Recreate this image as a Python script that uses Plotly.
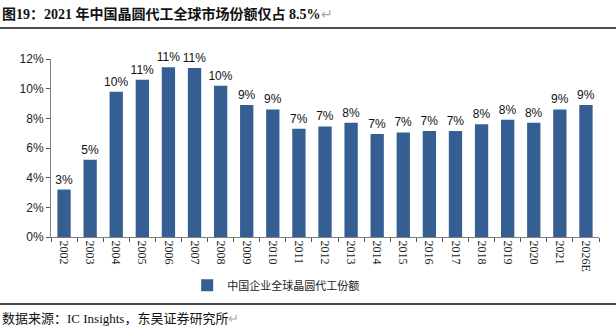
import plotly.graph_objects as go

years = ["2002", "2003", "2004", "2005", "2006", "2007", "2008", "2009", "2010",
         "2011", "2012", "2013", "2014", "2015", "2016", "2017", "2018", "2019",
         "2020", "2021", "2026E"]
share_pct = [3.2, 5.2, 9.8, 10.6, 11.45, 11.4, 10.2, 8.9, 8.6,
             7.3, 7.45, 7.7, 6.95, 7.05, 7.15, 7.15, 7.6, 7.9,
             7.7, 8.6, 8.9]
series_name = "中国企业全球晶圆代工份额"
y_ticks = [0, 2, 4, 6, 8, 10, 12]
y_tick_labels = [f"{v}%" for v in y_ticks]

bar_color = "#355F93"

fig = go.Figure()
fig.add_trace(go.Bar(
    x=years, y=share_pct, name=series_name,
    marker=dict(color=bar_color, line=dict(width=0)),
    texttemplate="%{y:.0f}%", textposition="outside", constraintext="none",
    textfont=dict(family="Liberation Sans, Arial", size=12, color="#111"),
    cliponaxis=False,
))

fig.update_layout(
    width=616, height=329,
    margin=dict(l=51, r=17, t=59, b=92),
    paper_bgcolor="white", plot_bgcolor="white",
    bargap=0.49,
    showlegend=True,
    legend=dict(x=0.41, y=-0.19, xanchor="center", yanchor="top",
                orientation="h", font=dict(family="Noto Sans CJK SC", size=11, color="#222"),
                itemwidth=30, bgcolor="rgba(0,0,0,0)"),
    xaxis=dict(
        type="category", tickangle=90, showgrid=False,
        showline=True, linecolor="#7f7f7f", linewidth=1,
        ticks="outside", tickson="boundaries", ticklen=4, tickcolor="#555",
        tickfont=dict(family="Liberation Serif, Times New Roman", size=12, color="#222"),
    ),
    yaxis=dict(
        range=[0, 12], tickvals=y_ticks, ticktext=y_tick_labels, showgrid=False,
        showline=True, linecolor="#7f7f7f", linewidth=1, zeroline=False,
        ticks="outside", ticklen=4, tickcolor="#555",
        tickfont=dict(family="Liberation Sans, Arial", size=12, color="#222"),
    ),
    font=dict(family="Liberation Sans, Arial"),
)

# header and footer of the figure page
fig.add_annotation(
    text="<b>图19：2021 年中国晶圆代工全球市场份额仅占 8.5%</b><span style='color:#aaa'>↵</span>",
    xref="paper", yref="paper", x=-51 / 548, y=1 + 45 / 178,
    xanchor="left", yanchor="middle", showarrow=False,
    font=dict(family="Liberation Serif, Noto Sans CJK SC", size=14, color="#111"),
)
fig.add_annotation(
    text="数据来源：IC Insights，东吴证券研究所<span style='color:#aaa'>↵</span>",
    xref="paper", yref="paper", x=-51 / 548, y=-81 / 178,
    xanchor="left", yanchor="middle", showarrow=False,
    font=dict(family="Liberation Serif, Noto Sans CJK SC", size=13, color="#111"),
)
fig.add_shape(type="line", xref="paper", yref="paper",
              x0=-51 / 548, x1=1 + 17 / 548, y0=1 + 31 / 178, y1=1 + 31 / 178,
              line=dict(color="#111", width=1.5))
fig.add_shape(type="line", xref="paper", yref="paper",
              x0=-51 / 548, x1=1 + 17 / 548, y0=-67 / 178, y1=-67 / 178,
              line=dict(color="#111", width=1.5))

fig.write_html("out.html")
